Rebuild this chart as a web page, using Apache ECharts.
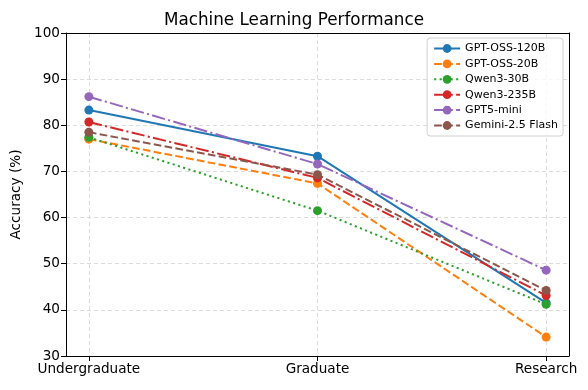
<!DOCTYPE html>
<html>
<head>
<meta charset="utf-8">
<script src="https://cdn.jsdelivr.net/npm/echarts@6/dist/echarts.min.js"></script>
<style>
  html, body { margin: 0; padding: 0; background: #fff; }
  #chart { width: 588px; height: 390px; }
</style>
</head>
<body>
<div id="chart"></div>
<script>
// categories on x
const levels = ['Undergraduate', 'Graduate', 'Research']
const yTicks = [30, 40, 50, 60, 70, 80, 90, 100]

// accuracy per model (%)
const gptOss120b = [83.3, 73.3, 41.5]
const gptOss20b = [77.0, 67.4, 34.1]
const qwen30b = [77.4, 61.5, 41.2]
const qwen235b = [80.7, 68.6, 43.1]
const gpt5mini = [86.2, 71.6, 48.6]
const gemini25 = [78.5, 69.3, 44.2]

const font = 'DejaVu Sans'

// matplotlib-like dash patterns (lw ~2px)
const dashed = [7.7, 3.3]
const dotted = [2.1, 3.4]
const dashdot = [13.3, 3.3, 2.1, 3.3]

function makeSeries(name, values, color, dash) {
  return {
    name: name,
    type: 'line',
    data: values.map((v, i) => [i, v]),
    symbol: 'circle',
    symbolSize: 9,
    itemStyle: { color: color },
    lineStyle: { color: color, width: 2, type: dash },
    emphasis: { disabled: true },
    z: 3,
  }
}

const gridLine = { show: true, lineStyle: { color: '#dcdcdc', type: [4, 3] } }
const black = { color: '#000' }

const chart = echarts.init(document.getElementById('chart'))
chart.setOption({
  animation: false,
  title: {
    text: 'Machine Learning Performance',
    left: 'center',
    top: 7,
    textStyle: { fontFamily: font, fontSize: 16.8, fontWeight: 'normal', color: '#000' },
  },
  grid: { left: 66, right: 19, top: 33, bottom: 34 },
  legend: {
    orient: 'vertical',
    right: 25,
    top: 38,
    itemWidth: 26,
    itemHeight: 11,
    itemGap: 4.4,
    padding: [5, 5, 5, 6],
    backgroundColor: 'rgba(255,255,255,0.8)',
    borderColor: '#d0d0d0',
    borderWidth: 1,
    borderRadius: 3,
    textStyle: { fontFamily: font, fontSize: 11, color: '#000' },
    z: 10,
  },
  xAxis: [
    {
      type: 'value',
      min: -0.1,
      max: 2.1,
      axisLine: { show: true, onZero: false, lineStyle: black },
      axisTick: { show: true, length: 5, lineStyle: black, customValues: [0, 1, 2] },
      axisLabel: {
        customValues: [0, 1, 2],
        formatter: (v) => levels[Math.round(v)],
        fontFamily: font,
        fontSize: 13.6,
        color: '#000',
        margin: 6,
      },
      splitLine: gridLine,
    },
    {
      type: 'value',
      position: 'top',
      min: -0.1,
      max: 2.1,
      axisLine: { show: true, onZero: false, lineStyle: black },
      axisTick: { show: false },
      axisLabel: { show: false },
      splitLine: { show: false },
    },
  ],
  yAxis: [
    {
      type: 'value',
      min: yTicks[0],
      max: yTicks[yTicks.length - 1],
      interval: 10,
      name: 'Accuracy (%)',
      nameLocation: 'middle',
      nameGap: 38,
      nameTextStyle: { fontFamily: font, fontSize: 13.6, color: '#000' },
      axisLine: { show: true, onZero: false, lineStyle: black },
      axisTick: { show: true, length: 5, lineStyle: black },
      axisLabel: { fontFamily: font, fontSize: 13.6, color: '#000', margin: 6 },
      splitLine: gridLine,
    },
    {
      type: 'value',
      position: 'right',
      min: yTicks[0],
      max: yTicks[yTicks.length - 1],
      axisLine: { show: true, onZero: false, lineStyle: black },
      axisTick: { show: false },
      axisLabel: { show: false },
      splitLine: { show: false },
    },
  ],
  series: [
    makeSeries('GPT-OSS-120B', gptOss120b, '#1f77b4', 'solid'),
    makeSeries('GPT-OSS-20B', gptOss20b, '#ff7f0e', dashed),
    makeSeries('Qwen3-30B', qwen30b, '#2ca02c', dotted),
    makeSeries('Qwen3-235B', qwen235b, '#d62728', dashdot),
    makeSeries('GPT5-mini', gpt5mini, '#9467bd', dashdot),
    makeSeries('Gemini-2.5 Flash', gemini25, '#8c564b', dashed),
  ],
})
</script>
</body>
</html>
